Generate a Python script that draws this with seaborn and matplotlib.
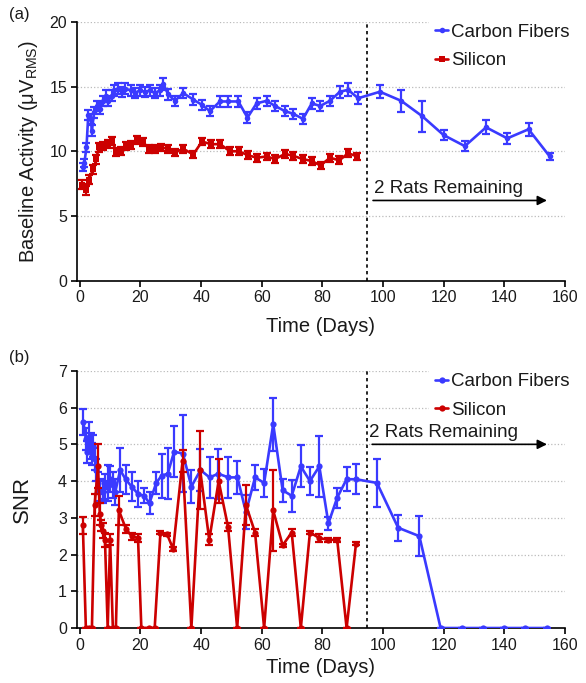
import matplotlib
matplotlib.use("Agg")
import matplotlib.pyplot as plt
import seaborn as sns
import pandas as pd

# ---------------- data ----------------
cf_top_days = [1, 1.5, 2.2, 2.8, 3.6, 4.0, 4.7, 5.8, 6.5, 7.7,
               8.5, 9.4, 10.5, 11.3, 12.6, 13.8, 15.0, 16.8, 18.1, 19.8,
               21.5, 23.1, 24.8, 26.4, 27.6, 29.1, 31.4, 34.1, 37.4, 40.2,
               42.9, 46.2, 49.0, 52.3, 55.3, 58.3, 61.6, 64.4, 67.7, 70.4,
               73.6, 76.5, 79.3, 82.5, 85.8, 88.5, 91.8,
               99, 106, 113, 120, 127, 134, 141, 148, 155]
cf_top_vals = [8.8, 9.1, 10.3, 12.8, 12.5, 11.6, 13.0, 13.5, 13.3, 13.9,
               14.3, 13.9, 14.3, 14.7, 14.85, 14.6, 14.85, 14.7, 14.5, 14.7,
               14.6, 14.7, 14.5, 14.7, 15.2, 14.4, 13.9, 14.5, 14.0, 13.6,
               13.1, 13.85, 13.85, 13.85, 12.6, 13.7, 13.9, 13.5, 13.1, 12.9,
               12.5, 13.7, 13.5, 13.9, 14.6, 14.75, 14.1,
               14.6, 13.9, 12.7, 11.25, 10.4, 11.85, 11.0, 11.7, 9.6]
cf_top_err = [0.3, 0.3, 0.35, 0.4, 0.4, 0.4, 0.4, 0.4, 0.4, 0.4,
              0.4, 0.4, 0.4, 0.4, 0.45, 0.4, 0.4, 0.4, 0.4, 0.4,
              0.4, 0.4, 0.4, 0.4, 0.45, 0.4, 0.4, 0.4, 0.4, 0.4,
              0.4, 0.4, 0.4, 0.4, 0.4, 0.4, 0.4, 0.4, 0.4, 0.4,
              0.4, 0.4, 0.4, 0.4, 0.45, 0.5, 0.45,
              0.5, 0.85, 1.2, 0.4, 0.4, 0.55, 0.4, 0.5, 0.3]

si_top_days = [0.8, 2.2, 3.0, 4.4, 5.5, 6.2, 7.7, 9.4, 10.7, 12.1,
               13.7, 15.4, 17.0, 19.0, 20.9, 22.8, 24.8, 26.7, 29.1, 31.4,
               34.1, 37.4, 40.3, 43.3, 46.3, 49.5, 52.5, 55.4, 58.4, 61.6,
               64.4, 67.7, 70.4, 73.5, 76.5, 79.4, 82.5, 85.6, 88.5, 91.5]
si_top_vals = [7.4, 7.0, 7.8, 8.6, 9.4, 10.3, 10.4, 10.55, 10.8, 9.95,
               10.0, 10.4, 10.5, 10.9, 10.7, 10.2, 10.2, 10.3, 10.2, 9.9,
               10.2, 9.75, 10.75, 10.55, 10.55, 10.0, 10.0, 9.7, 9.5, 9.6,
               9.4, 9.8, 9.65, 9.4, 9.25, 8.9, 9.5, 9.3, 9.85, 9.6]
si_top_err = [0.35] * 6 + [0.3] * 34

cf_snr_days = [1.2, 2.0, 2.4, 3.0, 3.6, 3.9, 4.3, 5.0, 5.4, 6.0,
               6.8, 7.6, 8.4, 9.3, 10.0, 10.8, 11.7, 13.3, 15.1, 17.1,
               19.2, 21.2, 23.0, 25.2, 27.0, 29.0, 31.1, 34.0, 36.8, 39.8,
               42.8, 45.7, 49.0, 52.0, 54.8, 57.8, 60.8, 63.8, 66.9, 69.9,
               72.9, 75.9, 79.0, 82.0, 84.9, 88.0, 91.1,
               98, 105, 112, 119, 126, 133, 140, 147, 154]
cf_snr_vals = [5.6, 5.15, 4.8, 5.2, 4.95, 4.75, 4.95, 4.6, 4.3, 3.95,
               3.75, 3.7, 3.85, 3.95, 4.05, 3.9, 3.7, 4.3, 4.05, 3.85,
               3.65, 3.6, 3.4, 3.95, 4.15, 4.2, 4.8, 4.75, 3.85, 4.3,
               4.1, 4.2, 4.1, 4.1, 3.15, 4.1, 3.95, 5.55, 3.75, 3.6,
               4.4, 4.0, 4.4, 2.85, 3.55, 4.05, 4.05,
               3.95, 2.73, 2.5, 0, 0, 0, 0, 0, 0]
cf_snr_err = [0.35, 0.3, 0.3, 0.4, 0.35, 0.3, 0.3, 0.3, 0.3, 0.3,
              0.3, 0.3, 0.35, 0.5, 0.35, 0.35, 0.35, 0.6, 0.4, 0.4,
              0.35, 0.2, 0.3, 0.3, 0.6, 0.7, 0.7, 1.05, 0.45, 0.57,
              0.55, 0.68, 0.55, 0.45, 0.46, 0.35, 0.39, 0.72, 0.32, 0.43,
              0.57, 0.39, 0.82, 0.18, 0.27, 0.32, 0.41,
              0.65, 0.36, 0.55, 0, 0, 0, 0, 0, 0]

si_snr_days = [1.0, 2.0, 3.0, 4.0, 4.9, 6.0, 6.6, 7.1, 7.6, 8.3,
               9.2, 10.0, 10.9, 11.9, 12.9, 15.2, 17.1, 19.2, 20.3, 22.7,
               24.7, 26.6, 28.8, 30.8, 33.9, 36.8, 39.7, 42.7, 45.8, 48.9,
               51.9, 54.8, 57.8, 60.8, 63.8, 66.9, 69.9, 72.9, 75.9, 79.0,
               82.0, 84.9, 88.0, 91.1]
si_snr_vals = [2.8, 0, 0, 0, 3.35, 4.4, 3.1, 2.8, 2.65, 2.4,
               0, 2.4, 0, 0, 3.2, 2.7, 2.5, 2.45, 0, 0,
               0, 2.6, 2.55, 2.15, 4.55, 0, 4.3, 2.4, 4.0, 2.75,
               0, 3.35, 2.6, 0, 3.2, 2.25, 2.6, 0, 2.6, 2.45,
               2.4, 2.4, 0, 2.3]
si_snr_err = [0.23, 0, 0, 0, 0.3, 0.6, 0.3, 0.15, 0.2, 0.2,
              0, 0.15, 0, 0, 0.4, 0.1, 0.1, 0.1, 0, 0,
              0, 0.05, 0.05, 0.05, 0.3, 0, 1.05, 0.15, 0.6, 0.1,
              0, 0.55, 0.1, 0, 1.1, 0.05, 0.1, 0, 0.05, 0.1,
              0.05, 0.05, 0, 0.05]

xticks = [0, 20, 40, 60, 80, 100, 120, 140, 160]
top_yticks = [0, 5, 10, 15, 20]
bot_yticks = [0, 1, 2, 3, 4, 5, 6, 7]
cutoff_day = 94.7

# ---------------- style ----------------
sns.set_theme(style="white")
plt.rcParams["font.family"] = ["Liberation Sans", "DejaVu Sans"]
plt.rcParams["mathtext.fontset"] = "custom"
plt.rcParams["mathtext.rm"] = "Liberation Sans"
plt.rcParams["mathtext.it"] = "Liberation Sans:italic"

BLUE = "#3a3aff"
RED = "#cc0000"
TXT = "#1a1a1a"

fig = plt.figure(figsize=(5.86, 6.83), dpi=100)
ax1 = fig.add_axes([0.131, 0.589, 0.833, 0.379])
ax2 = fig.add_axes([0.131, 0.0805, 0.833, 0.3765])


def draw(ax, days, vals, errs, color, marker, ms, label):
    df = pd.DataFrame({"day": days, "val": vals})
    sns.lineplot(data=df, x="day", y="val", ax=ax, color=color, marker=marker,
                 markersize=ms, markeredgewidth=0, linewidth=1.9,
                 estimator=None, sort=True, label=label, zorder=3)
    ax.errorbar(days, vals, yerr=errs, fmt="none", ecolor=color,
                elinewidth=1.6, capsize=3, capthick=1.6, zorder=3)


draw(ax1, cf_top_days, cf_top_vals, cf_top_err, BLUE, "o", 4, "Carbon Fibers")
draw(ax1, si_top_days, si_top_vals, si_top_err, RED, "s", 4.5, "Silicon")
draw(ax2, cf_snr_days, cf_snr_vals, cf_snr_err, BLUE, "o", 4.5, "Carbon Fibers")
draw(ax2, si_snr_days, si_snr_vals, si_snr_err, RED, "o", 4.5, "Silicon")

for ax, yt, ylim in [(ax1, top_yticks, (0, 20)), (ax2, bot_yticks, (0, 7))]:
    ax.set_xlim(-1, 160)
    ax.set_ylim(*ylim)
    ax.set_xticks(xticks)
    ax.set_yticks(yt)
    ax.tick_params(axis="both", labelsize=11.5, length=4, width=1.2,
                   direction="out", colors="black", labelcolor=TXT, pad=3)
    ax.tick_params(bottom=True, left=True)
    for s in ["top", "right"]:
        ax.spines[s].set_visible(False)
    for s in ["left", "bottom"]:
        ax.spines[s].set_color("black")
        ax.spines[s].set_linewidth(1.2)
    ax.yaxis.grid(True, linestyle=":", color="#bbbbbb", linewidth=0.9)
    ax.xaxis.grid(False)
    ax.axvline(cutoff_day, color="black", linestyle=(0, (2, 2)), linewidth=1.2, zorder=2)
    leg = ax.legend(loc="upper right", bbox_to_anchor=(1.04, 1.05), fontsize=13.5,
                    handlelength=0.7, handletextpad=0.15, labelspacing=0.6,
                    frameon=True, framealpha=1, edgecolor="white",
                    borderpad=0.3)
    leg.get_frame().set_linewidth(0)
    for t in leg.get_texts():
        t.set_color(TXT)

ax1.set_xlabel("Time (Days)", fontsize=14.5, labelpad=8, color=TXT)
ax2.set_xlabel("Time (Days)", fontsize=14.5, labelpad=4, color=TXT)
ax1.set_ylabel("Baseline Activity (μV$_{\\mathrm{RMS}}$)", fontsize=14.5, labelpad=7, color=TXT)
ax2.set_ylabel("SNR", fontsize=16, labelpad=18, color=TXT)

# annotations
ax1.annotate("", xy=(155, 6.2), xytext=(95.8, 6.2),
             arrowprops=dict(arrowstyle="-|>", color="black", lw=1.2, mutation_scale=14))
ax1.text(121.5, 6.45, "2 Rats Remaining", ha="center", va="bottom", fontsize=13.5, color=TXT)
ax2.annotate("", xy=(155, 5.0), xytext=(95.5, 5.0),
             arrowprops=dict(arrowstyle="-|>", color="black", lw=1.2, mutation_scale=14))
ax2.text(120, 5.1, "2 Rats Remaining", ha="center", va="bottom", fontsize=13.5, color=TXT)

fig.text(0.016, 0.979, "(a)", fontsize=12, va="center", ha="left", color=TXT)
fig.text(0.016, 0.477, "(b)", fontsize=12, va="center", ha="left", color=TXT)

fig.savefig("out.png", dpi=100)
